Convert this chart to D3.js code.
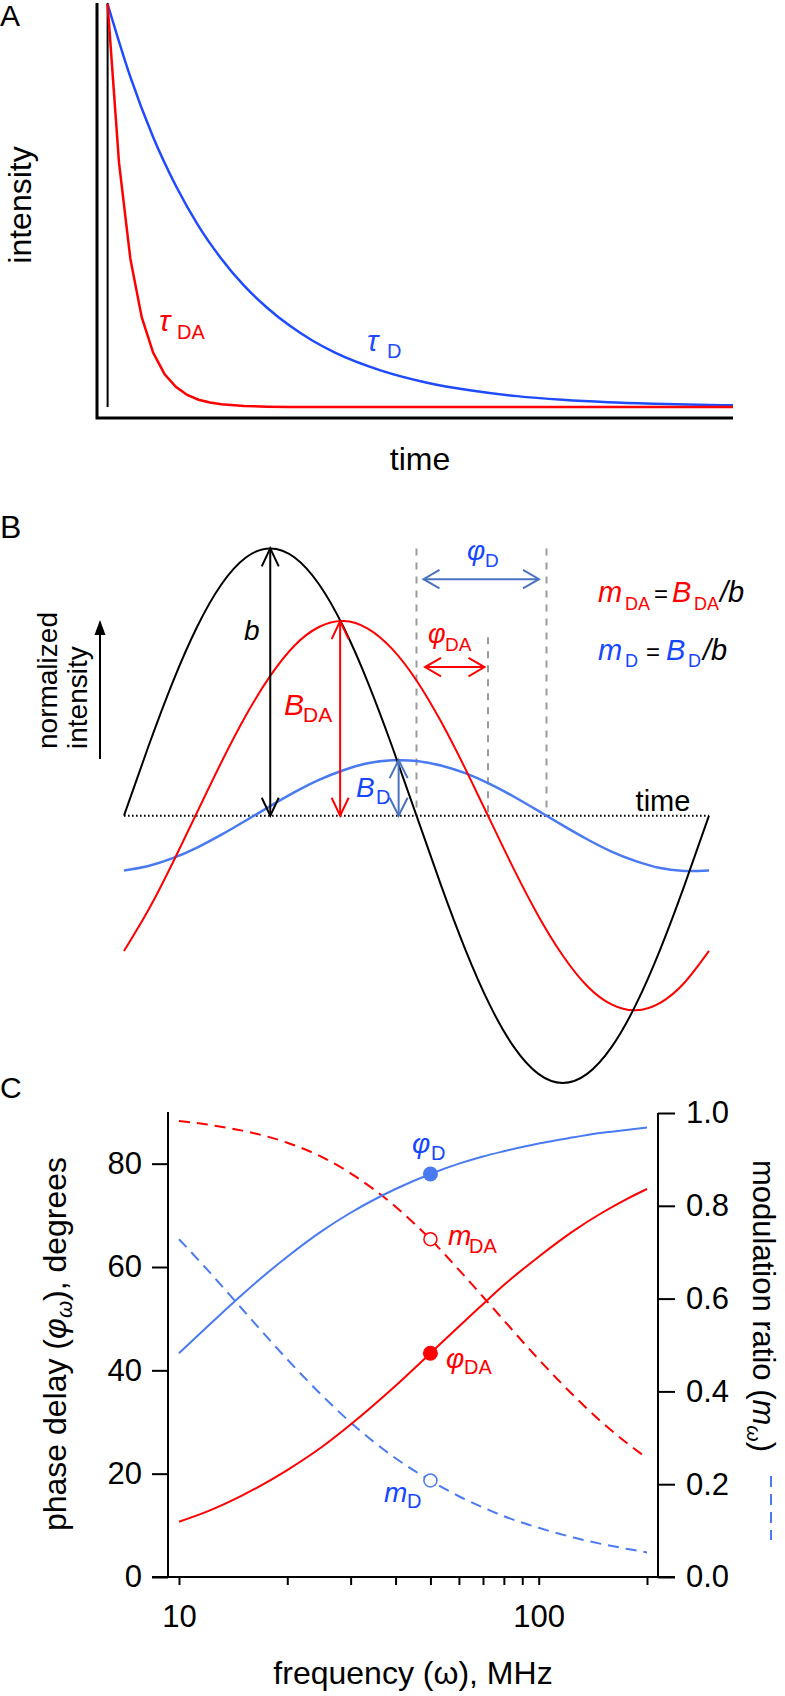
<!DOCTYPE html>
<html><head><meta charset="utf-8">
<script src="https://cdn.jsdelivr.net/npm/d3@7"></script>
<style>
body{margin:0;background:#fff}
svg text{font-family:"Liberation Sans",Arial,Helvetica,sans-serif}
</style>
</head><body>
<svg id="chart" width="785" height="1696"></svg>
<script>
// ---------- Panel A: fluorescence decays (time in ns, normalized intensity) ----------
const decayTimeDA = [0,1.5,3,4.5,6,7.5,9,10.5,12,13.5,15,18,21,24,30,40,50,60,70,82.5];
const decayDA     = [1,0.607,0.368,0.223,0.135,0.082,0.050,0.030,0.018,0.011,0.0067,0.0025,0.0009,0.0003,0,0,0,0,0,0];
const decayTimeD  = [0,3,6,9,12,15,18,21,24,27,30,36,42,48,54,60,66,72,78,82.5];
const decayD      = [1,0.819,0.670,0.549,0.449,0.368,0.301,0.247,0.202,0.165,0.135,0.091,0.061,0.041,0.027,0.018,0.012,0.0082,0.0055,0.0041];

// ---------- Panel B: modulated excitation and emissions (phase in degrees) ----------
const phaseDeg   = [0,15,30,45,60,75,90,105,120,135,150,165,180,195,210,225,240,255,270,285,300,315,330,345,360];
const excitation = [0,0.259,0.5,0.707,0.866,0.966,1,0.966,0.866,0.707,0.5,0.259,0,-0.259,-0.5,-0.707,-0.866,-0.966,-1,-0.966,-0.866,-0.707,-0.5,-0.259,0];
const emissionDA = [-0.506,-0.353,-0.176,0.013,0.201,0.375,0.523,0.637,0.706,0.728,0.700,0.624,0.506,0.353,0.176,-0.013,-0.201,-0.375,-0.523,-0.637,-0.706,-0.728,-0.700,-0.624,-0.506];
const emissionD  = [-0.205,-0.188,-0.159,-0.119,-0.071,-0.018,0.036,0.088,0.134,0.170,0.196,0.207,0.205,0.188,0.159,0.119,0.071,0.018,-0.036,-0.088,-0.134,-0.170,-0.196,-0.207,-0.205];

// ---------- Panel C: phase delay and modulation ratio vs frequency ----------
const freqMHz  = [10,12,15,20,25,30,40,50,60,70,80,100,125,150,175,200];
const phaseD   = [43.3,48.5,54.7,62.0,67.0,70.5,75.1,78.0,80.0,81.4,82.4,83.9,85.1,86.0,86.5,87.0];
const phaseDA  = [10.7,12.7,15.8,20.7,25.2,29.5,37.0,43.3,48.5,52.8,56.5,62.0,67.0,70.5,73.1,75.1];
const modD     = [0.728,0.662,0.577,0.469,0.391,0.333,0.256,0.208,0.174,0.150,0.131,0.106,0.085,0.071,0.061,0.053];
const modDA    = [0.983,0.975,0.962,0.936,0.905,0.870,0.798,0.728,0.662,0.604,0.553,0.469,0.391,0.333,0.290,0.256];
const markerFreq    = 50;
const markerPhaseD  = 78.0;
const markerPhaseDA = 43.3;
const markerModD    = 0.208;
const markerModDA   = 0.728;
const leftTicks  = [0,20,40,60,80];
const rightTicks = [0,0.2,0.4,0.6,0.8,1.0];
const freqTicks  = [10,20,30,40,50,60,70,80,90,100,200];
const freqTickLabels = [10,100];

// ---------- colours ----------
const RED = "#ff0000";
const BLUE_A = "#1f4bff";
const BLUE_LINE = "#4a7af2";
const BLUE_ARROW = "#4a73c2";
const BLUE_TXT = "#1447ff";
const FONT = '"Liberation Sans",Arial,Helvetica,sans-serif';

const svg = d3.select("#chart");

function txt(g, x, y, s, o = {}) {
  const t = g.append("text").attr("x", x).attr("y", y).text(s)
    .attr("font-size", o.size || 30).attr("fill", o.color || "#000");
  if (o.italic) t.attr("font-style", "italic");
  if (o.anchor) t.attr("text-anchor", o.anchor);
  if (o.rotate !== undefined) t.attr("transform", `rotate(${o.rotate},${x},${y})`);
  return t;
}
function chevron(g, tx, ty, dx, dy, len, half, color, w) {
  const n = Math.hypot(dx, dy); dx /= n; dy /= n;
  const bx = tx - dx * len, by = ty - dy * len;
  const px = -dy, py = dx;
  g.append("path")
    .attr("d", `M${bx + px * half},${by + py * half}L${tx},${ty}L${bx - px * half},${by - py * half}`)
    .attr("fill", "none").attr("stroke", color).attr("stroke-width", w || 2)
    .attr("stroke-linejoin", "miter");
}
function dblArrow(g, x1, y1, x2, y2, color, len, half) {
  g.append("line").attr("x1", x1).attr("y1", y1).attr("x2", x2).attr("y2", y2)
    .attr("stroke", color).attr("stroke-width", 2);
  chevron(g, x2, y2, x2 - x1, y2 - y1, len, half, color);
  chevron(g, x1, y1, x1 - x2, y1 - y2, len, half, color);
}

// ======================= PANEL A =======================
{
  const g = svg.append("g");
  const x = d3.scaleLinear().domain([-1.4, 82.5]).range([97, 733]);
  const y = d3.scaleLinear().domain([0, 1]).range([407, 4]);
  g.append("path").attr("d", `M97,3V418H733`).attr("fill", "none").attr("stroke", "#000").attr("stroke-width", 3);
  g.append("line").attr("x1", x(0)).attr("x2", x(0)).attr("y1", 3).attr("y2", y(0))
    .attr("stroke", "#000").attr("stroke-width", 2);
  const lineDA = d3.line().x((d, i) => x(decayTimeDA[i])).y(d => y(d));
  const lineD = d3.line().x((d, i) => x(decayTimeD[i])).y(d => y(d)).curve(d3.curveMonotoneX);
  g.append("path").attr("d", lineD(decayD)).attr("fill", "none").attr("stroke", BLUE_A).attr("stroke-width", 2.5);
  g.append("path").attr("d", lineDA(decayDA)).attr("fill", "none").attr("stroke", RED).attr("stroke-width", 2.5);

  txt(g, 0, 26, "A", {size: 30});
  txt(g, 31, 205, "intensity", {size: 32, anchor: "middle", rotate: -90});
  txt(g, 420, 470, "time", {size: 32, anchor: "middle"});
  txt(g, 159, 331, "τ", {size: 30, italic: true, color: RED});
  txt(g, 177, 339, "DA", {size: 20, color: RED});
  txt(g, 367, 351, "τ", {size: 30, italic: true, color: BLUE_A});
  txt(g, 387, 358, "D", {size: 20, color: BLUE_A});
}

// ======================= PANEL B =======================
{
  const g = svg.append("g");
  const x = d3.scaleLinear().domain([0, 360]).range([124, 709]);
  const y = d3.scaleLinear().domain([-1, 1]).range([1083, 548.4]);

  g.append("line").attr("x1", x(0)).attr("x2", x(360)).attr("y1", y(0)).attr("y2", y(0))
    .attr("stroke", "#000").attr("stroke-width", 2).attr("stroke-dasharray", "1.6,2.4");

  const guides = [[180, 1], [224, 0.668], [260, 1]];
  guides.forEach(([p, top]) => {
    g.append("line").attr("x1", x(p)).attr("x2", x(p)).attr("y1", y(top)).attr("y2", y(0))
      .attr("stroke", "#9b9b9b").attr("stroke-width", 2).attr("stroke-dasharray", "7,7");
  });

  const line = arr => d3.line().x((d, i) => x(phaseDeg[i])).y(d => y(d)).curve(d3.curveNatural)(arr);
  g.append("path").attr("d", line(emissionD)).attr("fill", "none").attr("stroke", BLUE_LINE).attr("stroke-width", 2.5);
  g.append("path").attr("d", line(emissionDA)).attr("fill", "none").attr("stroke", RED).attr("stroke-width", 2);
  g.append("path").attr("d", line(excitation)).attr("fill", "none").attr("stroke", "#000").attr("stroke-width", 2);

  dblArrow(g, x(90), y(0), x(90), y(1), "#000", 18, 8.5);
  dblArrow(g, x(133), y(0), x(133), y(0.728), RED, 18, 8.5);
  dblArrow(g, x(169), y(0), x(169), y(0.208), BLUE_ARROW, 18, 9);
  dblArrow(g, x(180) + 7, y(0.885), x(260) - 7.5, y(0.885), BLUE_ARROW, 16, 9.3);
  dblArrow(g, x(180) + 8.5, y(0.556), x(224) - 3.5, y(0.556), RED, 16, 9.3);

  g.append("line").attr("x1", 100).attr("x2", 100).attr("y1", 759).attr("y2", 632)
    .attr("stroke", "#000").attr("stroke-width", 2);
  g.append("path").attr("d", "M100,620L105.5,635H94.5Z").attr("fill", "#000");

  txt(g, 0, 538, "B", {size: 32});
  txt(g, 57, 749, "normalized", {size: 28, rotate: -90});
  txt(g, 87, 749, "intensity", {size: 28, rotate: -90});
  txt(g, 663, 811, "time", {size: 29, anchor: "middle"});

  txt(g, 244, 640, "b", {size: 28, italic: true});
  txt(g, 284, 715, "B", {size: 30, italic: true, color: RED});
  txt(g, 303, 722, "DA", {size: 21, color: RED});
  txt(g, 356, 797, "B", {size: 28, italic: true, color: BLUE_TXT});
  txt(g, 376, 804, "D", {size: 20, color: BLUE_TXT});
  txt(g, 467, 560, "φ", {size: 28, italic: true, color: BLUE_TXT});
  txt(g, 485, 567, "D", {size: 19, color: BLUE_TXT});
  txt(g, 428, 643, "φ", {size: 27, italic: true, color: RED});
  txt(g, 445, 651, "DA", {size: 19, color: RED});

  // formulas
  txt(g, 598, 602, "m", {size: 29, italic: true, color: RED});
  txt(g, 625, 610, "DA", {size: 18, color: RED});
  txt(g, 654, 602, "=", {size: 24});
  txt(g, 672, 602, "B", {size: 29, italic: true, color: RED});
  txt(g, 694, 610, "DA", {size: 18, color: RED});
  txt(g, 720, 602, "/b", {size: 29, italic: true});
  txt(g, 598, 660, "m", {size: 29, italic: true, color: BLUE_TXT});
  txt(g, 625, 667, "D", {size: 18, color: BLUE_TXT});
  txt(g, 646, 660, "=", {size: 24});
  txt(g, 666, 660, "B", {size: 29, italic: true, color: BLUE_TXT});
  txt(g, 688, 667, "D", {size: 18, color: BLUE_TXT});
  txt(g, 703, 660, "/b", {size: 29, italic: true});
}

// ======================= PANEL C =======================
{
  const g = svg.append("g");
  const x = d3.scaleLog().domain([10, 200]).range([179, 647]);
  const yL = d3.scaleLinear().domain([0, 90]).range([1577, 1112]);
  const yR = d3.scaleLinear().domain([0, 1]).range([1577, 1113]);

  const axL = g.append("g").attr("transform", "translate(168,0)")
    .call(d3.axisLeft(yL).tickValues(leftTicks).tickSize(16).tickPadding(10));
  const axR = g.append("g").attr("transform", "translate(658,0)")
    .call(d3.axisRight(yR).tickValues(rightTicks).tickSize(17).tickPadding(11).tickFormat(d3.format(".1f")));
  const axB = g.append("g").attr("transform", "translate(0,1577)")
    .call(d3.axisBottom(x).tickValues(freqTicks).tickSize(8).tickPadding(20)
      .tickFormat(d => freqTickLabels.includes(d) ? d : ""));
  [axL, axR, axB].forEach(a => {
    a.select(".domain").remove();
    a.selectAll("line").attr("stroke", "#000").attr("stroke-width", 2);
    a.selectAll("text").attr("font-size", 31).attr("font-family", FONT).attr("fill", "#000");
  });
  g.append("line").attr("x1", 168).attr("x2", 168).attr("y1", 1112).attr("y2", 1577).attr("stroke", "#000").attr("stroke-width", 2);
  g.append("line").attr("x1", 658).attr("x2", 658).attr("y1", 1113).attr("y2", 1577).attr("stroke", "#000").attr("stroke-width", 2);
  g.append("line").attr("x1", 152).attr("x2", 675).attr("y1", 1577).attr("y2", 1577).attr("stroke", "#000").attr("stroke-width", 2);

  const lineL = d3.line().x((d, i) => x(freqMHz[i])).y(d => yL(d)).curve(d3.curveMonotoneX);
  const lineR = d3.line().x((d, i) => x(freqMHz[i])).y(d => yR(d)).curve(d3.curveMonotoneX);
  g.append("path").attr("d", lineR(modDA)).attr("fill", "none").attr("stroke", RED).attr("stroke-width", 2).attr("stroke-dasharray", "11,7");
  g.append("path").attr("d", lineR(modD)).attr("fill", "none").attr("stroke", BLUE_LINE).attr("stroke-width", 2).attr("stroke-dasharray", "11,7");
  g.append("path").attr("d", lineL(phaseD)).attr("fill", "none").attr("stroke", BLUE_LINE).attr("stroke-width", 2);
  g.append("path").attr("d", lineL(phaseDA)).attr("fill", "none").attr("stroke", RED).attr("stroke-width", 2);

  g.append("circle").attr("cx", x(markerFreq)).attr("cy", yL(markerPhaseD)).attr("r", 7.5).attr("fill", BLUE_LINE);
  g.append("circle").attr("cx", x(markerFreq)).attr("cy", yL(markerPhaseDA)).attr("r", 7.5).attr("fill", RED);
  g.append("circle").attr("cx", x(markerFreq)).attr("cy", yR(markerModDA)).attr("r", 6.5).attr("fill", "#fff").attr("stroke", RED).attr("stroke-width", 1.5);
  g.append("circle").attr("cx", x(markerFreq)).attr("cy", yR(markerModD)).attr("r", 6.5).attr("fill", "#fff").attr("stroke", BLUE_LINE).attr("stroke-width", 1.5);

  txt(g, 0, 1098, "C", {size: 30});
  const lt = txt(g, 66, 1344, "", {size: 32, anchor: "middle", rotate: -90});
  lt.append("tspan").text("phase delay (");
  lt.append("tspan").attr("font-style", "italic").text("φ");
  lt.append("tspan").attr("font-style", "italic").attr("font-size", 22).attr("dy", 6).text("ω");
  lt.append("tspan").attr("dy", -6).text("), degrees");
  const rt = txt(g, 753, 1306, "", {size: 31, anchor: "middle", rotate: 90});
  rt.append("tspan").text("modulation ratio (");
  rt.append("tspan").attr("font-style", "italic").text("m");
  rt.append("tspan").attr("font-style", "italic").attr("font-size", 21).attr("dy", 6).text("ω");
  rt.append("tspan").attr("dy", -6).text(")");
  g.append("line").attr("x1", 771).attr("x2", 771).attr("y1", 1476).attr("y2", 1540)
    .attr("stroke", BLUE_LINE).attr("stroke-width", 2).attr("stroke-dasharray", "11,7");
  txt(g, 413, 1684, "frequency (ω), MHz", {size: 32, anchor: "middle"});

  txt(g, 412, 1153, "φ", {size: 28, italic: true, color: BLUE_TXT});
  txt(g, 431, 1160, "D", {size: 20, color: BLUE_TXT});
  txt(g, 448, 1245, "m", {size: 28, italic: true, color: RED});
  txt(g, 469, 1253, "DA", {size: 20, color: RED});
  txt(g, 446, 1368, "φ", {size: 28, italic: true, color: RED});
  txt(g, 464, 1374, "DA", {size: 20, color: RED});
  txt(g, 384, 1502, "m", {size: 28, italic: true, color: BLUE_TXT});
  txt(g, 407, 1508, "D", {size: 20, color: BLUE_TXT});
}
</script>
</body></html>
